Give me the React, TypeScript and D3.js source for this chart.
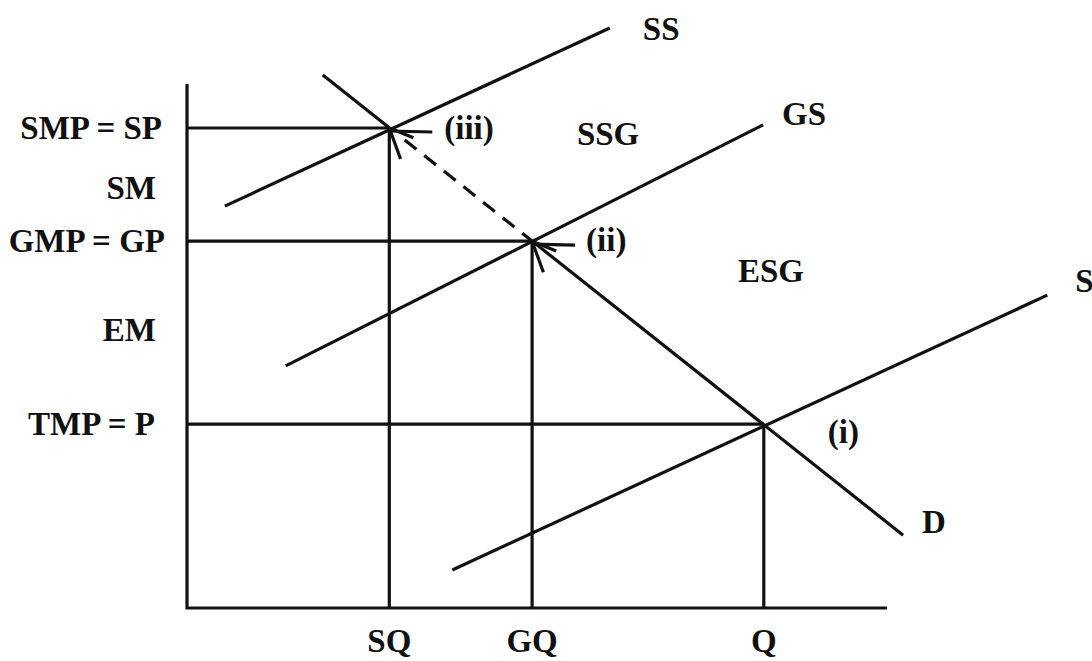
import React from "react";
import * as d3 from "d3";

// ---- data (abstract units: quantity 0..10, price 0..10) ----
const quantityLabels = ["SQ", "GQ", "Q"];
const quantityValues = [2.89, 4.93, 8.24];
const priceLabels = ["SMP = SP", "GMP = GP", "TMP = P"];
const priceValues = [9.16, 7.0, 3.51];
const marginLabels = ["SM", "EM"];
const marginValues = [8.0, 5.29];

const curveNames = ["SS", "GS", "S", "D"];
const curveX0 = [0.54, 1.41, 3.79, 1.94];
const curveY0 = [7.67, 4.62, 0.725, 10.17];
const curveX1 = [6.04, 8.23, 12.29, 10.23];
const curveY1 = [11.07, 9.22, 5.97, 1.39];

const pointLabels = ["(iii)", "(ii)", "(i)"];
const regionLabels = ["SSG", "ESG"];
const regionX = [5.57, 7.87];
const regionY = [8.84, 6.22];

const W = 1092;
const H = 661;
const FONT = "'Liberation Serif', 'Times New Roman', serif";
const FS = 33;
const INK = "#111";

export default function App() {
  const x = d3.scaleLinear().domain([0, 10]).range([187, 887]);
  const y = d3.scaleLinear().domain([0, 10]).range([608, 84]);
  const line = d3.line<[number, number]>().x((d) => x(d[0])).y((d) => y(d[1]));

  // demand line as function
  const dIdx = 3;
  const dSlope = (curveY1[dIdx] - curveY0[dIdx]) / (curveX1[dIdx] - curveX0[dIdx]);
  const demandAt = (q: number) => curveY0[dIdx] + dSlope * (q - curveX0[dIdx]);

  const sw = 3.2;
  const textProps = {
    fontFamily: FONT,
    fontSize: FS,
    fontWeight: 700 as const,
    fill: INK,
  };

  // arrowheads at (iii) and (ii)
  const arrowWings = (px: number, py: number) => {
    const wings: [number, number][] = [];
    [70, 22].forEach((deg, i) => {
      const r = (deg * Math.PI) / 180;
      const len = i === 0 ? 33 : 26;
      wings.push([px + Math.cos(r) * len, py + Math.sin(r) * len]);
    });
    return wings;
  };

  return (
    <svg
      width={W}
      height={H}
      style={{ position: "absolute", left: 0, top: 0, background: "#fff" }}
    >
      <rect width={W} height={H} fill="#fff" />
      {/* axes */}
      <path d={line([[0, 10], [0, 0], [10, 0]])!} fill="none" stroke={INK} strokeWidth={sw} />

      {/* price / quantity guide lines */}
      {quantityValues.map((q, i) => (
        <g key={"g" + i}>
          <line x1={x(0)} x2={x(q)} y1={y(priceValues[i])} y2={y(priceValues[i])} stroke={INK} strokeWidth={sw} />
          <line x1={x(q)} x2={x(q)} y1={y(priceValues[i])} y2={y(0)} stroke={INK} strokeWidth={sw} />
        </g>
      ))}

      {/* supply curves */}
      {curveNames.slice(0, 3).map((n, i) => (
        <path
          key={n}
          d={line([[curveX0[i], curveY0[i]], [curveX1[i], curveY1[i]]])!}
          stroke={INK}
          strokeWidth={sw}
          fill="none"
        />
      ))}

      {/* demand: solid, dashed between (iii) and (ii), solid */}
      <path d={line([[curveX0[dIdx], curveY0[dIdx]], [quantityValues[0], demandAt(quantityValues[0])]])!} stroke={INK} strokeWidth={sw} fill="none" />
      <path
        d={line([[quantityValues[0] + 0.22, demandAt(quantityValues[0] + 0.22)], [quantityValues[1], demandAt(quantityValues[1])]])!}
        stroke={INK}
        strokeWidth={sw}
        strokeDasharray="15,10"
        fill="none"
      />
      <path d={line([[quantityValues[1], demandAt(quantityValues[1])], [curveX1[dIdx], curveY1[dIdx]]])!} stroke={INK} strokeWidth={sw} fill="none" />

      {/* pointer lines and arrowheads */}
      {[0, 1].map((i) => {
        const px = x(quantityValues[i]);
        const py = y(priceValues[i]);
        const wings = arrowWings(px, py);
        return (
          <g key={"a" + i}>
            <line x1={px} y1={py + 3} x2={px + 43} y2={py + 4} stroke={INK} strokeWidth={sw} />
            {wings.map((w, j) => (
              <line key={j} x1={px} y1={py} x2={w[0]} y2={w[1]} stroke={INK} strokeWidth={sw} />
            ))}
          </g>
        );
      })}

      {/* price labels */}
      {priceLabels.map((t, i) => (
        <text key={t} x={[162, 165, 155][i]} y={y(priceValues[i]) + 10.5} textAnchor="end" {...textProps}>
          {t}
        </text>
      ))}
      {marginLabels.map((t, i) => (
        <text key={t} x={156} y={y(marginValues[i]) + 10.5} textAnchor="end" {...textProps}>
          {t}
        </text>
      ))}

      {/* quantity labels */}
      {quantityLabels.map((t, i) => (
        <text key={t} x={x(quantityValues[i])} y={652} textAnchor="middle" {...textProps}>
          {t}
        </text>
      ))}

      {/* curve labels */}
      <text x={x(curveX1[0]) + 33} y={y(curveY1[0]) + 12} {...textProps}>{curveNames[0]}</text>
      <text x={x(curveX1[1]) + 19} y={y(curveY1[1])} {...textProps}>{curveNames[1]}</text>
      <text x={x(curveX1[2]) + 28} y={y(curveY1[2]) - 3} {...textProps}>{curveNames[2]}</text>
      <text x={x(curveX1[3]) + 19} y={y(curveY1[3]) - 2} {...textProps}>{curveNames[3]}</text>

      {/* point labels */}
      <text x={x(quantityValues[0]) + 55} y={y(priceValues[0]) + 11} {...textProps}>{pointLabels[0]}</text>
      <text x={x(quantityValues[1]) + 54} y={y(priceValues[1]) + 10} {...textProps}>{pointLabels[1]}</text>
      <text x={x(quantityValues[2]) + 64} y={y(priceValues[2]) + 19} {...textProps}>{pointLabels[2]}</text>

      {/* region labels */}
      {regionLabels.map((t, i) => (
        <text key={t} x={x(regionX[i])} y={y(regionY[i])} {...textProps}>
          {t}
        </text>
      ))}
    </svg>
  );
}
